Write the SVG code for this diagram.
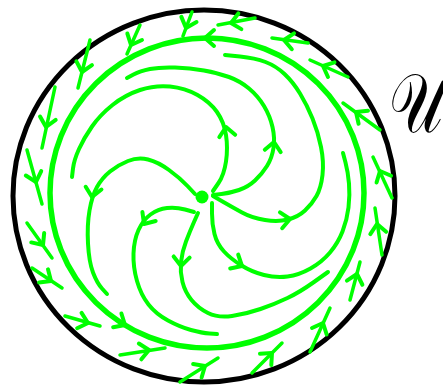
<svg xmlns="http://www.w3.org/2000/svg" xmlns:xlink="http://www.w3.org/1999/xlink" width="443" height="385" viewBox="0 0 443 385">
<style>
.g{fill:none;stroke:#00ff00;stroke-width:4;stroke-linecap:round;stroke-linejoin:round}
.o{fill:none;stroke:#00ff00;stroke-width:3.5;stroke-linecap:round;stroke-linejoin:round}
.lc{fill:none;stroke:#00ff00;stroke-width:5.5}
.bd{fill:none;stroke:#000;stroke-width:5}
.lbl{font-family:"DejaVu Sans","Noto Sans",sans-serif;font-size:60px;fill:#000}
</style>
<defs>
<path id="ah" d="M-9,-8 L0,0 L-9,8" class="g"/>
</defs>
<rect width="443" height="385" fill="#fff"/>
<g id="boundary">
<ellipse cx="204" cy="196" rx="191" ry="186" class="bd"/>
</g>
<g id="label">
<text transform="translate(389,132) scale(1,1.4)" class="lbl">𝒰</text>
</g>
<g id="limit-cycle">
<ellipse cx="207" cy="193" rx="157" ry="155" class="lc"/>
<use xlink:href="#ah" transform="translate(205,38) rotate(180)"/>
<use xlink:href="#ah" transform="translate(125,325) rotate(31)"/>
</g>
<g id="equilibrium">
<circle cx="202" cy="197" r="6.5" fill="#00ff00"/>
</g>
<g id="connectors">
<g id="inner-arms">
<path class="g" d="M213,191 L218.5,183 Q224,175 226,161.5 Q228,148 226,135 Q224,122 217,112 Q210,102 197.5,95 Q185,88 170,86.5 Q155,85 140,90 Q125,95 112.5,105 Q100,115 92,126.5 Q84,138 79,149 Q74,160 73,168.5 L72,177"/>
<path class="g" d="M195,194 L187.5,186 Q180,178 169,170 Q158,162 148,159.5 Q138,157 128,161 Q118,165 110,171.5 Q102,178 97,187 Q92,196 89.5,210.5 Q87,225 88,243.5 Q89,262 93,272.5 Q97,283 102,288.5 L107,294"/>
<path class="g" d="M194,212 L185,209.5 Q176,207 167,208 Q158,209 150.5,214.5 Q143,220 138.5,230 Q134,240 133.5,253.5 Q133,267 137,281 Q141,295 148.5,304.5 Q156,314 168,320.5 Q180,327 191,330 Q202,333 209.5,333.5 L217,334"/>
<path class="g" d="M198,213 L194,222 Q190,231 186,241.5 Q182,252 181,262 Q180,272 182.5,282 Q185,292 191.5,300 Q198,308 208,313 Q218,318 232,316 Q246,314 260.5,309 Q275,304 287.5,298 Q300,292 314,282 L328,272"/>
<path class="g" d="M212,203 L212,213.5 Q212,224 214.5,234 Q217,244 224,251.5 Q231,259 241.5,265.5 Q252,272 264,275 Q276,278 287.5,276.5 Q299,275 310.5,268.5 Q322,262 330,252.5 Q338,243 342.5,231.5 Q347,220 348.5,207.5 Q350,195 349,183.5 Q348,172 345.5,162.5 L343,153"/>
<path class="g" d="M213,195 L221.5,194 Q230,193 239,190 Q248,187 255,180.5 Q262,174 267,166 Q272,158 273.5,148 Q275,138 272.5,127 Q270,116 264,106 Q258,96 249,88.5 Q240,81 229,77 Q218,73 204,70.5 Q190,68 175,67.5 Q160,67 150,69 Q140,71 133.5,74.5 L127,78"/>
<path class="g" d="M213,196 L222.5,201.5 Q232,207 242,212.5 Q252,218 265,220 Q278,222 288,219.5 Q298,217 305,210.5 Q312,204 316.5,196 Q321,188 322.5,175 Q324,162 321,147 Q318,132 312.5,118.5 Q307,105 300,93.5 Q293,82 284.5,74 Q276,66 265.5,62 Q255,58 240,56.5 L225,55"/>
<use xlink:href="#ah" transform="translate(226,127) rotate(-98)"/>
<use xlink:href="#ah" transform="translate(92,197) rotate(100)"/>
<use xlink:href="#ah" transform="translate(144,224) rotate(124)"/>
<use xlink:href="#ah" transform="translate(181,266) rotate(94)"/>
<use xlink:href="#ah" transform="translate(242,266) rotate(30)"/>
<use xlink:href="#ah" transform="translate(274,142) rotate(-82)"/>
<use xlink:href="#ah" transform="translate(290,219) rotate(-8)"/>
</g>
<g id="outer-arrows">
<path class="o" d="M192,12 L183,36"/><use xlink:href="#ah" transform="translate(186,28) rotate(109)"/>
<path class="o" d="M140,25 L127,54"/><use xlink:href="#ah" transform="translate(131,45) rotate(114)"/>
<path class="o" d="M90,40 L78,88"/><use xlink:href="#ah" transform="translate(82,72) rotate(104)"/>
<path class="o" d="M55,87 L42,148"/><use xlink:href="#ah" transform="translate(46,127) rotate(102)"/>
<path class="o" d="M27,150 L42,204"/><use xlink:href="#ah" transform="translate(36,182) rotate(74)"/>
<path class="o" d="M27,223 L52,258"/><use xlink:href="#ah" transform="translate(43,245) rotate(54)"/>
<path class="o" d="M32,268 L62,288"/><use xlink:href="#ah" transform="translate(51,281) rotate(34)"/>
<path class="o" d="M65,316 L100,326"/><use xlink:href="#ah" transform="translate(88,323) rotate(16)"/>
<path class="o" d="M120,355 L165,348"/><use xlink:href="#ah" transform="translate(149,350) rotate(-9)"/>
<path class="o" d="M180,382 L218,358"/><use xlink:href="#ah" transform="translate(205,366) rotate(-32)"/>
<path class="o" d="M252,373 L282,343"/><use xlink:href="#ah" transform="translate(272,353) rotate(-45)"/>
<path class="o" d="M310,352 L330,308"/><use xlink:href="#ah" transform="translate(323,323) rotate(-66)"/>
<path class="o" d="M350,300 L360,262"/><use xlink:href="#ah" transform="translate(357,274) rotate(-75)"/>
<path class="o" d="M382,255 L375,208"/><use xlink:href="#ah" transform="translate(377,224) rotate(-98)"/>
<path class="o" d="M392,198 L373,157"/><use xlink:href="#ah" transform="translate(380,171) rotate(-115)"/>
<path class="o" d="M380,130 L343,103"/><use xlink:href="#ah" transform="translate(356,112) rotate(-144)"/>
<path class="o" d="M348,77 L310,60"/><use xlink:href="#ah" transform="translate(323,66) rotate(-156)"/>
<path class="o" d="M308,43 L272,38"/><use xlink:href="#ah" transform="translate(284,40) rotate(-172)"/>
<path class="o" d="M255,18 L218,25"/><use xlink:href="#ah" transform="translate(231,23) rotate(169)"/>
</g>
</g>
</svg>
